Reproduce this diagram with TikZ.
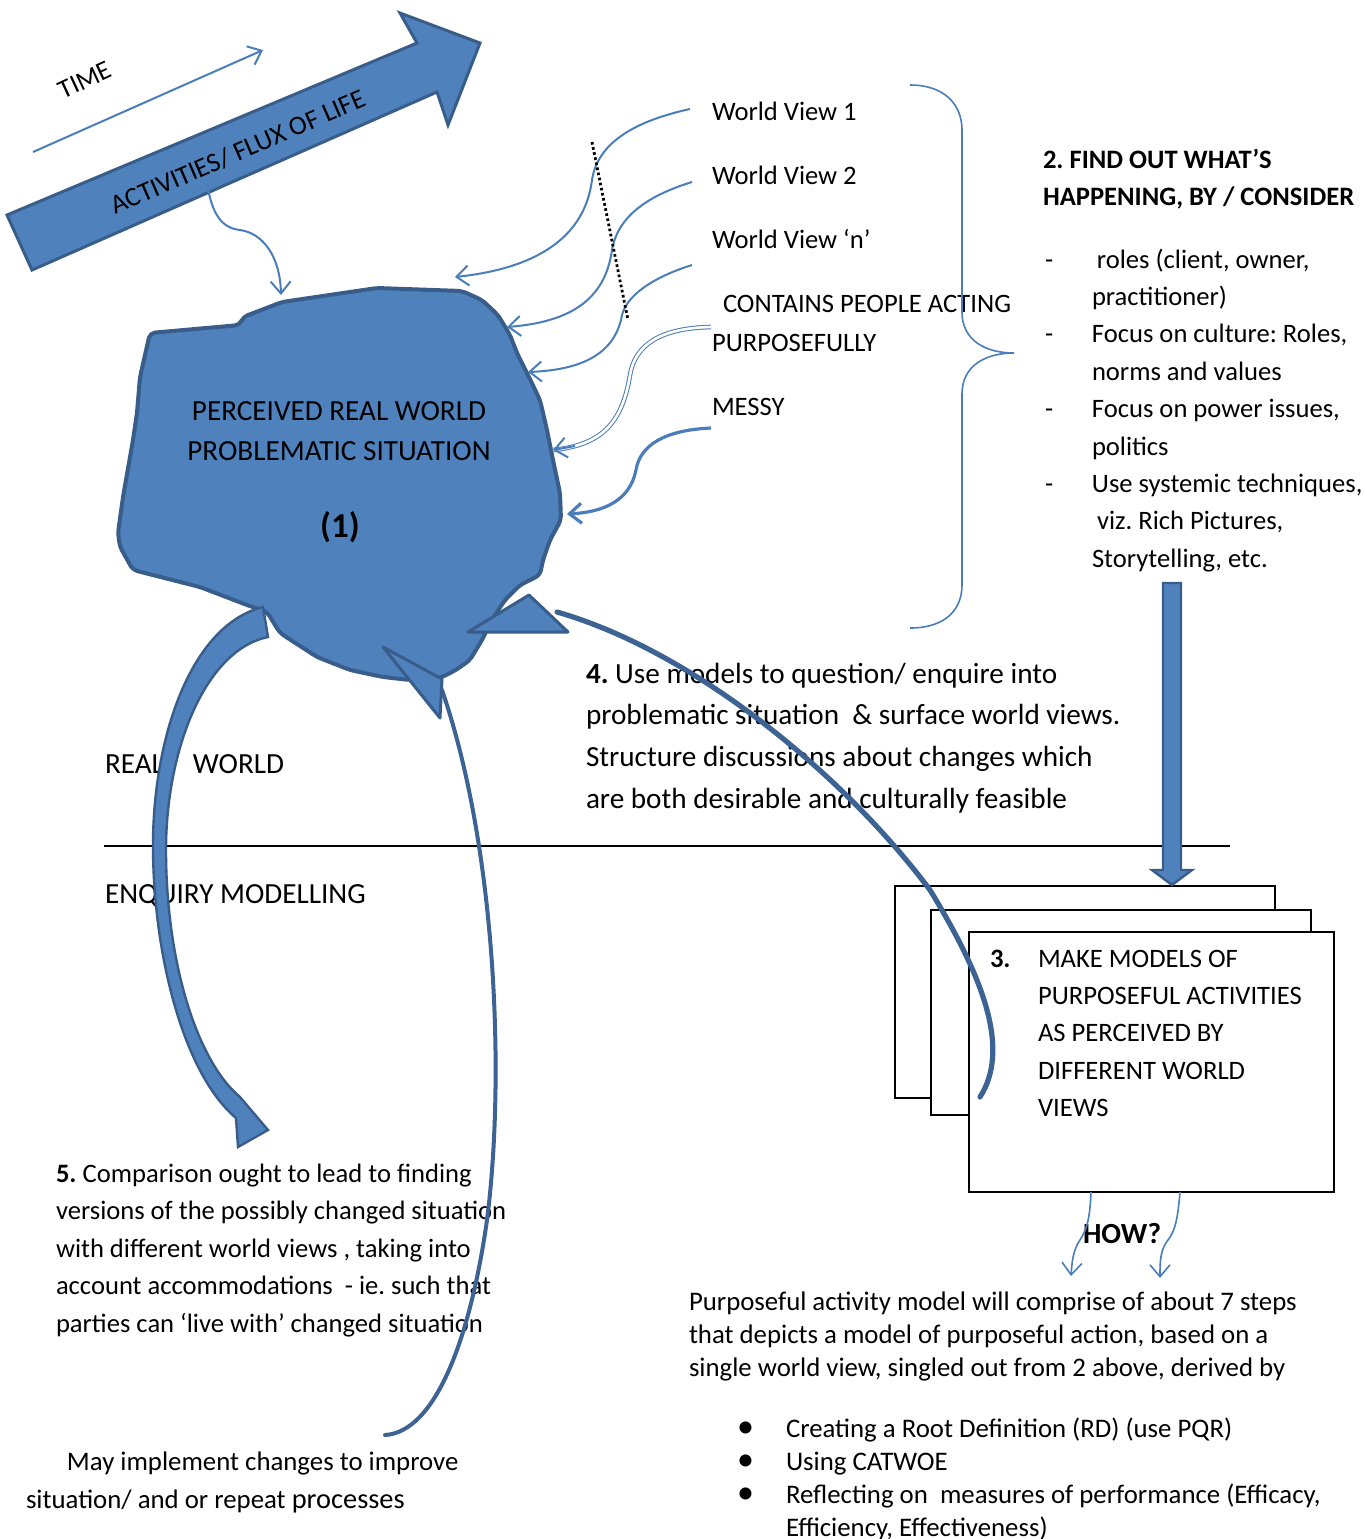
\documentclass[tikz,border=0pt]{standalone}
\usepackage{fontspec}
\setmainfont{Carlito}
\usetikzlibrary{arrows.meta}
\definecolor{fillblue}{HTML}{4F81BD}
\definecolor{edgeblue}{HTML}{385D8A}
\definecolor{lineblue}{HTML}{4A7EBB}
\definecolor{loopblue}{HTML}{3C6394}
\newcommand\txtblock[2]{\parbox[t]{#1}{\raggedright #2}}
\frenchspacing
\begin{document}
\begin{tikzpicture}[x=0.5pt,y=-0.5pt,
  every node/.style={inner sep=0pt, outer sep=0pt},
  lbl/.style={anchor=base west, font=\fontsize{13.3}{18.7}\selectfont},
  lblbig/.style={anchor=base west, font=\fontsize{14.6}{20.85}\selectfont},
  blockshape/.style={fill=fillblue, draw=edgeblue, line width=1.5pt, line join=miter},
  thinarrow/.style={draw=lineblue, line width=1pt, -{Straight Barb[length=6pt,width=10pt]}},
  stackbox/.style={draw=black, fill=white, line width=1.4pt, anchor=north west},
  headtri/.style={fill=fillblue, draw=edgeblue, line width=1.5pt, line join=round},
  loopline/.style={draw=loopblue, line cap=round}
]
\useasboundingbox (0,0) rectangle (1365,1539);

% --- flux of life block arrow
\path[blockshape] (7,215) -- (417,43) -- (400,13) -- (480,43) -- (448,125) -- (437,92) -- (32,270) -- cycle;
\node[rotate=23.5, font=\fontsize{13.5}{16}\selectfont] (flux) at (238,152) {ACTIVITIES/ FLUX OF LIFE};

% --- time arrow
\node[rotate=25, font=\fontsize{13.3}{16}\selectfont] (time) at (85,80) {TIME};
\coordinate (t0) at (33,152);
\coordinate (t1) at (263,50);
\draw[thinarrow] (t0) -- (t1);

% --- the problematic situation
\path[fill=fillblue, draw=edgeblue, line width=2pt, line join=round, rounded corners=2.5pt]
  (150,333) -- (240,325) -- (243,317) -- (282,302) -- (377,288) -- (462,291) -- (482,300)
  -- (498,315) -- (510,335) -- (517,353) -- (528,375) -- (540,400) -- (547,430) -- (553,460) -- (560,493)
  -- (561,520) -- (550,540) -- (543,560) -- (540,575) -- (520,585) -- (505,600) -- (493,618)
  -- (482,640) -- (470,660) -- (456,670) -- (440,678) -- (410,680) -- (383,677) -- (350,670)
  -- (317,657) -- (280,633) -- (267,612) -- (247,605) -- (200,587) -- (133,570) -- (120,547)
  -- (118,533) -- (123,497) -- (133,440) -- (137,413) -- (140,377) -- cycle;
\node[anchor=base, font=\fontsize{14.6}{20}\selectfont] (blob) at (339,420)
  {\parbox[t]{220pt}{\centering PERCEIVED REAL WORLD\\PROBLEMATIC SITUATION}};
\node[anchor=base, font=\fontsize{17.5}{20}\selectfont\bfseries] (one) at (340,537) {(1)};

% --- world views
\node[lbl] (wv1) at (712,120) {World View 1};
\node[lbl] (wv2) at (712,184) {World View 2};
\node[lbl] (wvn) at (712,248) {World View ‘n’};
\node[lbl] (contains) at (723,312) {CONTAINS PEOPLE ACTING};
\node[lbl] (purp) at (712,351) {PURPOSEFULLY};
\node[lbl] (messy) at (712,415) {MESSY};

% --- step 2
\node[lbl, font=\fontsize{13.3}{18.5}\selectfont\bfseries] (find) at (1043,168)
  {\txtblock{170pt}{2. FIND OUT WHAT’S\\HAPPENING, BY / CONSIDER}};
\node[lbl] (consider) at (1045,268)
  {\txtblock{175pt}{\makebox[23.5pt][l]{-}\hspace{2.5pt}roles (client, owner,\\
   \hspace*{23.5pt}practitioner)\\
   \makebox[23.5pt][l]{-}Focus on culture: Roles,\\
   \hspace*{23.5pt}norms and values\\
   \makebox[23.5pt][l]{-}Focus on power issues,\\
   \hspace*{23.5pt}politics\\
   \makebox[23.5pt][l]{-}Use systemic techniques,\\
   \hspace*{26pt}viz. Rich Pictures,\\
   \hspace*{23.5pt}Storytelling, etc.}};

% --- step 4
\node[lblbig] (usemodels) at (586,683)
  {\txtblock{300pt}{\textbf{4.} Use models to question/ enquire into\\
   problematic situation\ \ \& surface world views.\\
   Structure discussions about changes which\\
   are both desirable and culturally feasible}};

% --- real world / enquiry modelling divide
\node[lblbig] (realw) at (105,773) {\makebox[44pt][l]{REAL}WORLD};
\node[lblbig] (enq) at (105,903) {ENQUIRY MODELLING};
\coordinate (d0) at (104,846);
\coordinate (d1) at (1230,846);
\draw[line width=1pt] (d0) -- (d1);

% --- step 3: stacked models
\node[stackbox, minimum width=190pt, minimum height=106pt] (boxA) at (895,886) {};
\node[stackbox, minimum width=190pt, minimum height=102.5pt] (boxB) at (931,910) {};
\node[stackbox, minimum width=182.5pt, minimum height=130pt] (boxC) at (969,932) {};
\node[lbl] (models) at (990,967)
  {\txtblock{170pt}{\makebox[24pt][l]{\bfseries 3.}MAKE MODELS OF\\
   \hspace*{24pt}PURPOSEFUL ACTIVITIES\\
   \hspace*{24pt}AS PERCEIVED BY\\
   \hspace*{24pt}DIFFERENT WORLD\\
   \hspace*{24pt}VIEWS}};

% --- how
\node[anchor=base west, font=\fontsize{14.6}{18}\selectfont\bfseries] (how) at (1083,1243) {HOW?};
\node[anchor=base west, font=\fontsize{13.4}{16.5}\selectfont] (pam) at (689,1310)
  {\txtblock{320pt}{Purposeful activity model will comprise of about 7 steps\\
   that depicts a model of purposeful action, based on a\\
   single world view, singled out from 2 above, derived by}};
\node[anchor=base west, font=\fontsize{13.4}{16.5}\selectfont] (steps) at (737,1437)
  {\txtblock{300pt}{\makebox[24.5pt][l]{\fontsize{17}{16.5}\selectfont •}Creating a Root Definition (RD) (use PQR)\\
   \makebox[24.5pt][l]{\fontsize{17}{16.5}\selectfont •}Using CATWOE\\
   \makebox[24.5pt][l]{\fontsize{17}{16.5}\selectfont •}Reflecting on\ \ measures of performance (Efficacy,\\
   \hspace*{24.5pt}Efficiency, Effectiveness)}};

% --- step 5 and implementation
\node[lbl, font=\fontsize{13.3}{18.75}\selectfont] (cmp) at (56,1182)
  {\txtblock{260pt}{\textbf{5.} Comparison ought to lead to finding\\
   versions of the possibly changed situation\\
   with different world views , taking into\\
   account accommodations\ \ - ie. such that\\
   parties can ‘live with’ changed situation}};
\node[lbl, font=\fontsize{13.4}{19}\selectfont] (impl) at (26,1470)
  {\txtblock{260pt}{\hspace*{20.5pt}May implement changes to improve\\
   situation/ and or repeat {\fontsize{14.2}{19}\selectfont processes}}};

% --- flux of life feeding the situation
\coordinate (f0) at (207,183);
\coordinate (f1) at (281,295);
\draw[thinarrow] (f0) .. controls (212,215) and (222,228) .. (240,230)
  .. controls (262,233) and (280,255) .. (f1);

% --- world view connectors
\coordinate (w1s) at (690,109);  \coordinate (w1e) at (455,277);
\coordinate (w2s) at (692,182);  \coordinate (w2e) at (507,327);
\coordinate (w3s) at (692,265);  \coordinate (w3e) at (528,372);
\coordinate (w4s) at (711,327);  \coordinate (w4e) at (553,450);
\coordinate (w5s) at (711,428);  \coordinate (w5e) at (567,514);
\draw[thinarrow] (w1s) .. controls (640,120) and (598,140) .. (592,180)
  .. controls (585,235) and (540,268) .. (w1e);
\draw[thinarrow] (w2s) .. controls (650,195) and (618,215) .. (612,250)
  .. controls (605,300) and (570,322) .. (w2e);
\draw[thinarrow] (w3s) .. controls (660,275) and (628,292) .. (622,315)
  .. controls (615,355) and (580,370) .. (w3e);
\draw[draw=lineblue, line width=0.5pt, double=white, double distance=1.3pt]
  (w4s) .. controls (660,328) and (635,345) .. (630,375)
  .. controls (622,425) and (600,445) .. (w4e);
\draw[draw=lineblue, line width=1pt, -{Straight Barb[length=6pt,width=10pt]}]
  (575,446) -- (w4e);
\draw[draw=lineblue, line width=1.6pt, -{Straight Barb[length=6pt,width=10pt]}]
  (w5s) .. controls (665,430) and (640,445) .. (636,470)
  .. controls (630,500) and (605,512) .. (w5e);
\coordinate (p0) at (592,142);
\coordinate (p1) at (628,320);
\draw[line width=1.4pt, dash pattern=on 1.3pt off 1.3pt] (p0) -- (p1);

% --- brace gathering the views
\coordinate (b0) at (910,85);
\coordinate (b1) at (910,628);
\draw[lineblue, line width=0.8pt] (b0) .. controls (945,85) and (962,105) .. (962,130)
  -- (962,312) .. controls (962,340) and (985,353) .. (1014,353)
  .. controls (985,353) and (962,366) .. (962,394)
  -- (962,585) .. controls (962,610) and (945,628) .. (b1);

% --- step 2 feeding step 3
\path[fill=fillblue, draw=edgeblue, line width=1.2pt]
  (1163,583) -- (1181,583) -- (1181,870) -- (1192,870) -- (1172,885)
  -- (1152,870) -- (1163,870) -- cycle;

% --- how arrows
\coordinate (h1) at (1091,1192); \coordinate (h1e) at (1071,1276);
\coordinate (h2) at (1180,1192); \coordinate (h2e) at (1160,1278);
\draw[thinarrow, line width=0.8pt] (h1) .. controls (1090,1215) and (1088,1228) .. (1080,1240)
  .. controls (1073,1250) and (1072,1262) .. (h1e);
\draw[thinarrow, line width=0.8pt] (h2) .. controls (1178,1215) and (1176,1230) .. (1168,1240)
  .. controls (1160,1250) and (1160,1262) .. (h2e);

% --- step 4 loop: models back to the situation
\coordinate (m0) at (980,1097);
\coordinate (m1) at (557,612);
\draw[loopline, line width=2.6pt] (m0) .. controls (1010,1050) and (985,980) .. (930,890)
  .. controls (840,770) and (690,650) .. (m1);
\path[headtri] (468,632) -- (529,595) -- (568,632) -- cycle;

% --- implementation loop back to the situation
\coordinate (i0) at (385,1435);
\coordinate (i1) at (442,690);
\draw[loopline, line width=2pt] (i0) .. controls (435,1432) and (470,1340) .. (487,1220)
  .. controls (505,1080) and (497,850) .. (i1);
\path[headtri] (383,647) -- (442,679) -- (440,718) -- cycle;

% --- comparison arrow from the situation to step 5
\path[fill=fillblue, draw=edgeblue, line width=1.2pt, line join=miter]
  (263,607) .. controls (190,625) and (152,740) .. (153,850)
  .. controls (154,960) and (185,1075) .. (236,1118)
  -- (238,1147) -- (268,1130) -- (240,1097)
  .. controls (196,1060) and (166,960) .. (166,850)
  .. controls (166,750) and (205,650) .. (268,637) -- cycle;

\end{tikzpicture}
\end{document}
